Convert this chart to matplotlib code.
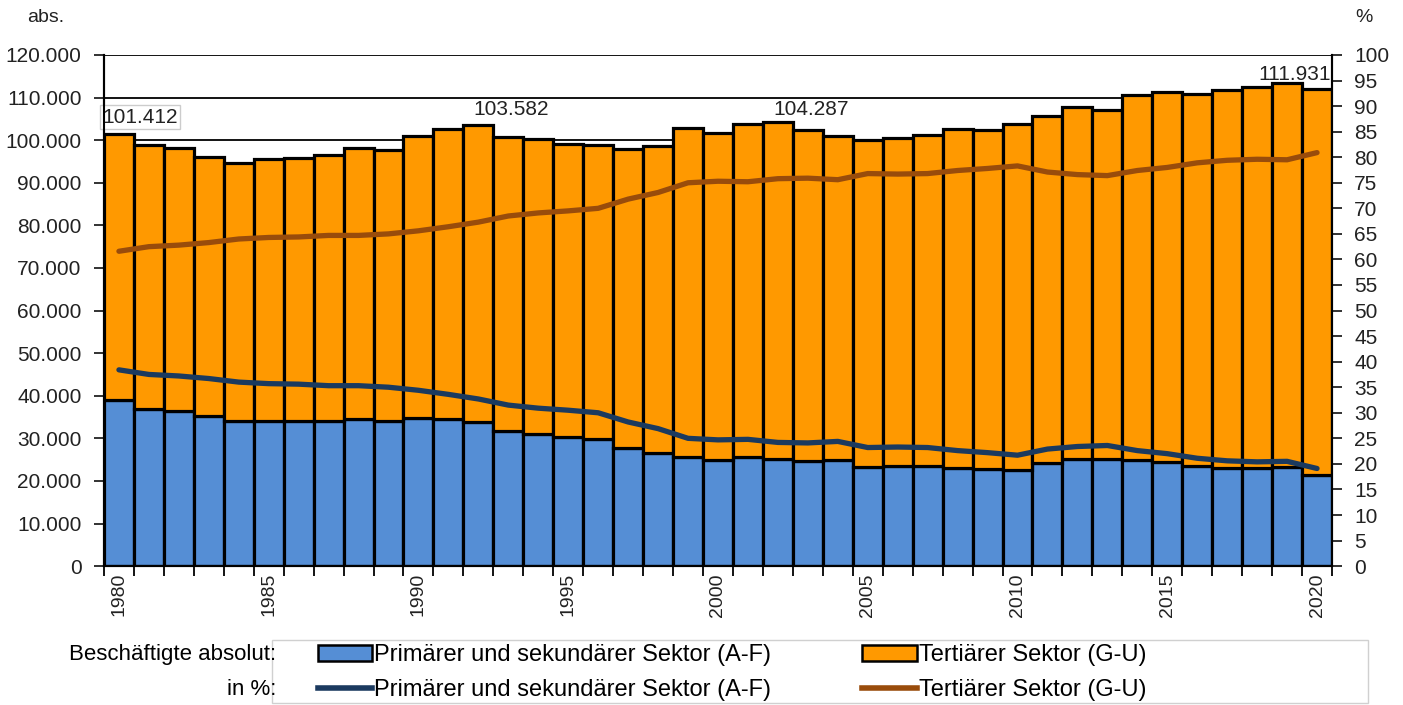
import matplotlib
matplotlib.use("Agg")
import matplotlib.pyplot as plt
import matplotlib.patches as mpatches
from matplotlib.lines import Line2D
import numpy as np

plt.rcParams['font.family'] = ['Liberation Sans', 'DejaVu Sans']

# %%
# Daten
years = list(range(1980, 2021))
total_abs = [101.4, 98.8, 98.1, 96.1, 94.7, 95.5, 95.9, 96.6, 98.1, 97.7,
             100.9, 102.7, 103.6, 100.8, 100.2, 99.1, 98.8, 97.9, 98.6, 102.9,
             101.7, 103.7, 104.3, 102.5, 101.0, 100.0, 100.6, 101.2, 102.7, 102.3,
             103.7, 105.6, 107.7, 107.1, 110.5, 111.4, 110.9, 111.7, 112.6, 113.4,
             111.9]
prim_abs = [39.0, 37.0, 36.5, 35.3, 34.1, 34.1, 34.1, 34.1, 34.6, 34.1,
            34.8, 34.5, 33.9, 31.7, 31.0, 30.2, 29.8, 27.7, 26.6, 25.6,
            25.0, 25.7, 25.1, 24.6, 24.8, 23.2, 23.4, 23.5, 23.1, 22.7,
            22.5, 24.2, 25.1, 25.1, 24.9, 24.5, 23.5, 23.0, 23.0, 23.2,
            21.4]
tert_pct = [61.6, 62.5, 62.8, 63.3, 64.0, 64.3, 64.4, 64.7, 64.7, 65.0,
            65.6, 66.4, 67.3, 68.5, 69.1, 69.5, 70.0, 71.8, 73.1, 75.0,
            75.3, 75.2, 75.8, 75.9, 75.6, 76.8, 76.7, 76.8, 77.4, 77.8,
            78.3, 77.1, 76.6, 76.4, 77.4, 78.0, 78.9, 79.4, 79.6, 79.5,
            80.9]
prim_pct = [38.4, 37.5, 37.2, 36.7, 36.0, 35.7, 35.6, 35.3, 35.3, 35.0,
            34.4, 33.6, 32.7, 31.5, 30.9, 30.5, 30.0, 28.2, 26.9, 25.0,
            24.7, 24.8, 24.2, 24.1, 24.4, 23.2, 23.3, 23.2, 22.6, 22.2,
            21.7, 22.9, 23.4, 23.6, 22.6, 22.0, 21.1, 20.6, 20.4, 20.5,
            19.1]
labels_shown = {1980: "101.412", 1992: "103.582", 2002: "104.287", 2020: "111.931"}

blue = "#558ED5"
orange = "#FF9900"
navy = "#1B3A5F"
brown = "#994C0B"

# %%
fig = plt.figure(figsize=(14.03, 7.05), dpi=100)
ax = fig.add_axes([0.0741, 0.197, 0.8753, 0.725])
ax2 = ax.twinx()

x = np.arange(len(years))
prim = np.array(prim_abs) * 1000
tert = (np.array(total_abs) - np.array(prim_abs)) * 1000

ax.set_axisbelow(True)
ax.grid(axis='y', color='black', linewidth=1.3)
ax.bar(x, prim, width=1.0, color=blue, edgecolor='black', linewidth=2.3, zorder=2)
ax.bar(x, tert, bottom=prim, width=1.0, color=orange, edgecolor='black', linewidth=2.3, zorder=2)

ax.set_xlim(-0.5, len(years) - 0.5)
ax.set_ylim(0, 120000)
ax.set_yticks(np.arange(0, 120001, 10000))
ax.set_yticklabels([f"{v:,}".replace(",", ".") for v in range(0, 120001, 10000)])
ax.tick_params(axis='y', labelsize=15, length=7, width=1.3, pad=9, colors='#222222')

ax.set_xticks(np.arange(-0.5, len(years), 1))
ax.set_xticklabels([])
ax.tick_params(axis='x', which='major', length=7, width=1.3)
ax.set_xticks([i for i, y in enumerate(years) if y % 5 == 0], minor=True)
ax.set_xticklabels([str(y) for y in years if y % 5 == 0], minor=True, rotation=90)
ax.tick_params(axis='x', which='minor', length=0, labelsize=14, pad=5, colors='#222222')

ax2.plot(x, tert_pct, color=brown, linewidth=3.8, solid_capstyle='round', zorder=5)
ax2.plot(x, prim_pct, color=navy, linewidth=3.8, solid_capstyle='round', zorder=5)
ax2.set_ylim(0, 100)
ax2.set_yticks(np.arange(0, 101, 5))
ax2.tick_params(axis='y', labelsize=15, length=7, width=1.3, pad=9, colors='#222222')

for a in (ax, ax2):
    for s in a.spines.values():
        s.set_linewidth(1.5)
    a.spines['top'].set_visible(False)

# Werte-Beschriftungen
for yr, txt in labels_shown.items():
    i = years.index(yr)
    if yr == 1980:
        ax.text(-0.55, 105400, txt, fontsize=15, color='#222222', ha='left', va='center',
                bbox=dict(boxstyle='square,pad=0.12', fc='white', ec='#cccccc', lw=1), zorder=6)
    elif yr == 2020:
        ax.text(i + 0.45, 115500, txt, fontsize=15, color='#222222', ha='right', va='center', zorder=6)
    else:
        ax.text(i + 1.1, 107200, txt, fontsize=15, color='#222222', ha='center', va='center', zorder=6)

fig.text(0.019, 0.975, "abs.", fontsize=14, color='#222222', va='center')
fig.text(0.966, 0.975, "%", fontsize=14, color='#222222', va='center')

# Legende
fig.patches.append(mpatches.Rectangle((0.1939, 0.003), 0.781, 0.089, transform=fig.transFigure,
                                      fill=False, edgecolor='#d0d0d0', linewidth=1))
fig.text(0.197, 0.071, "Beschäftigte absolut:", fontsize=16, ha='right', va='center')
fig.text(0.197, 0.022, "in %:", fontsize=16, ha='right', va='center')
handles = [mpatches.Patch(facecolor=blue, edgecolor='black', linewidth=1.8),
           Line2D([], [], color=navy, linewidth=4),
           mpatches.Patch(facecolor=orange, edgecolor='black', linewidth=1.8),
           Line2D([], [], color=brown, linewidth=4)]
names = ["Primärer und sekundärer Sektor (A-F)", "Primärer und sekundärer Sektor (A-F)",
         "Tertiärer Sektor (G-U)", "Tertiärer Sektor (G-U)"]
fig.legend(handles, names, loc='center left', bbox_to_anchor=(0.218, 0.046), ncol=2,
           frameon=False, handlelength=2.3, handleheight=0.7, handletextpad=0.1,
           columnspacing=3.85, labelspacing=0.55, borderpad=0,
           prop={'size': 17})

fig.savefig("out.png", dpi=100)
